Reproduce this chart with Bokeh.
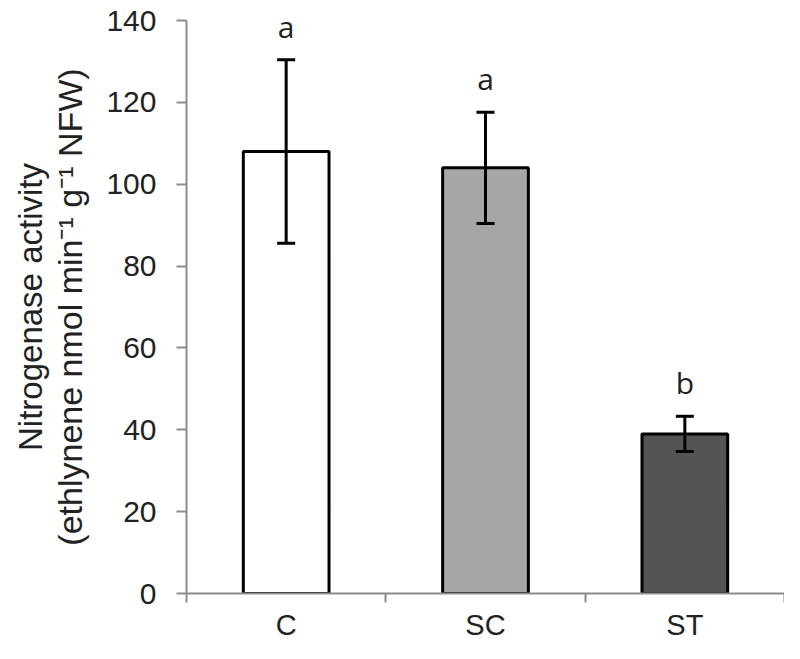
from bokeh.plotting import figure
from bokeh.models import (Range1d, FixedTicker, ColumnDataSource, Whisker, TeeHead,
                          LabelSet, LinearAxis)
from bokeh.core.properties import value
from bokeh.embed import file_html
from bokeh.resources import INLINE

# ---- data ----
categories = ["C", "SC", "ST"]
means = [108, 104, 39]
errors = [22.4, 13.6, 4.3]
letters = ["a", "a", "b"]
bar_colors = ["#ffffff", "#a6a6a8", "#545454"]
y_ticks = [0, 20, 40, 60, 80, 100, 120, 140]
y_label_1 = "Nitrogenase activity"
y_label_2 = "(ethlynene nmol min\u207b\u00b9 g\u207b\u00b9 NFW)"

xs = [i + 0.5 for i in range(len(categories))]
src = ColumnDataSource(dict(
    x=xs, top=means, color=bar_colors,
    upper=[m + e for m, e in zip(means, errors)],
    lower=[m - e for m, e in zip(means, errors)],
    letter=letters,
))

p = figure(width=784, height=643, output_backend="svg", toolbar_location=None,
           x_range=Range1d(0, 3), y_range=Range1d(0, 140),
           min_border_left=186, min_border_right=0, min_border_top=20, min_border_bottom=50)
p.outline_line_color = None
p.grid.visible = False
p.background_fill_color = "white"
p.border_fill_color = "white"

p.vbar(x="x", top="top", bottom=0, width=0.43, fill_color="color",
       line_color="black", line_width=3, source=src)

w = Whisker(base="x", upper="upper", lower="lower", source=src, level="overlay",
            line_color="black", line_width=3,
            upper_head=TeeHead(size=18, line_width=3, line_color="black"),
            lower_head=TeeHead(size=18, line_width=3, line_color="black"))
p.add_layout(w)

labels = LabelSet(x="x", y="upper", text="letter", source=src, text_align="center",
                  text_baseline="alphabetic", y_offset=22, text_font=value("Open Sans"),
                  text_font_size=value("30px"), text_color=value("#222222"))
p.add_layout(labels)

axis_gray = "#8c8c8c"

# x axis
xa = p.xaxis[0]
xa.ticker = FixedTicker(ticks=xs, minor_ticks=[0, 1, 2, 3])
xa.major_label_overrides = {x: c for x, c in zip(xs, categories)}
xa.major_tick_line_color = None
xa.major_tick_out = 0
xa.major_tick_in = 0
xa.minor_tick_in = 0
xa.minor_tick_out = 9
xa.minor_tick_line_color = axis_gray
xa.minor_tick_line_width = 2
xa.axis_line_color = axis_gray
xa.axis_line_width = 2
xa.major_label_standoff = 6
xa.major_label_text_font = "Liberation Sans"
xa.major_label_text_font_size = "29px"
xa.major_label_text_color = "#222222"

# y axis
ya = p.yaxis[0]
ya.ticker = FixedTicker(ticks=y_ticks)
ya.minor_tick_line_color = None
ya.major_tick_in = 0
ya.major_tick_out = 10
ya.major_tick_line_color = axis_gray
ya.major_tick_line_width = 2
ya.axis_line_color = axis_gray
ya.axis_line_width = 2
ya.major_label_standoff = 20
ya.major_label_text_font = "Liberation Sans"
ya.major_label_text_font_size = "30px"
ya.major_label_text_color = "#222222"
ya.axis_label = y_label_2
ya.axis_label_text_font = "Liberation Sans"
ya.axis_label_text_font_size = "34px"
ya.axis_label_text_font_style = "normal"
ya.axis_label_text_color = "#222222"
ya.axis_label_standoff = 14

# outer axis carrying only the first line of the y title
ya2 = LinearAxis(ticker=FixedTicker(ticks=[]), axis_line_color=None,
                 major_tick_line_color=None, minor_tick_line_color=None,
                 major_tick_out=0, major_tick_in=0, minor_tick_out=0, minor_tick_in=0,
                 major_label_standoff=0, axis_label=y_label_1, axis_label_standoff=0,
                 axis_label_text_font="Liberation Sans", axis_label_text_font_size="33px",
                 axis_label_text_font_style="normal", axis_label_text_color="#222222")
p.add_layout(ya2, "left")

open("out.html", "w").write(file_html(p, INLINE))
